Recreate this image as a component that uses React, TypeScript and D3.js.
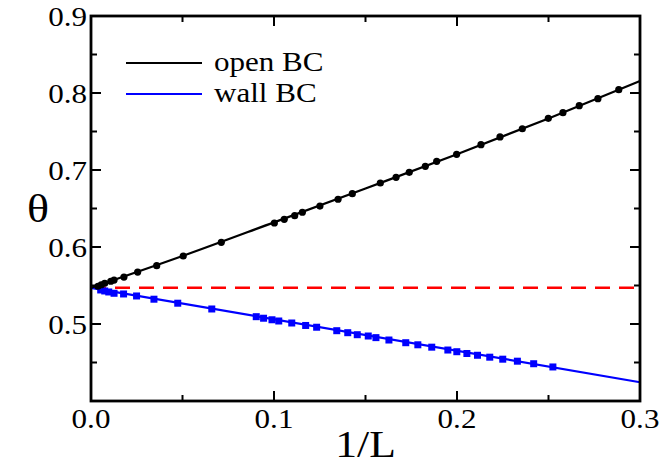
import { scaleLinear, line as d3_line, curveMonotoneX, range } from "d3";

// 1/L and theta values
const openX = [
  0.0038, 0.0056, 0.0075, 0.0108, 0.0126, 0.018, 0.0255, 0.0359, 0.0504,
  0.0712, 0.1002, 0.1056, 0.1113, 0.1155, 0.1251, 0.135, 0.1428, 0.1581,
  0.1667, 0.1739, 0.1827, 0.1889, 0.1998, 0.2131, 0.2235, 0.2357, 0.2499,
  0.2579, 0.2668, 0.277, 0.2884,
];
const openY = [
  0.549, 0.551, 0.5529, 0.5555, 0.5571, 0.561, 0.5675, 0.5757, 0.5883,
  0.6061, 0.6312, 0.636, 0.6407, 0.6451, 0.6532, 0.662, 0.6692, 0.6831,
  0.6905, 0.697, 0.7048, 0.7113, 0.7204, 0.7329, 0.7429, 0.7536, 0.7671,
  0.7744, 0.7835, 0.7926, 0.8043,
];

const wallX = [
  0.0053, 0.0075, 0.0097, 0.0126, 0.0178, 0.0249, 0.0344, 0.0474, 0.066,
  0.0903, 0.0943, 0.0989, 0.1026, 0.1097, 0.1173, 0.1233, 0.1343, 0.1403,
  0.1455, 0.1515, 0.1557, 0.1628, 0.172, 0.1786, 0.1862, 0.195, 0.1999,
  0.2054, 0.2112, 0.2179, 0.225, 0.233, 0.2419, 0.2524,
];
const wallY = [
  0.5442, 0.5429, 0.5416, 0.5399, 0.539, 0.5364, 0.5322, 0.527, 0.5195,
  0.5095, 0.5075, 0.5055, 0.5039, 0.5013, 0.4981, 0.4958, 0.4913, 0.4887,
  0.4861, 0.4844, 0.4823, 0.4792, 0.4757, 0.473, 0.4699, 0.4662, 0.464,
  0.4617, 0.4594, 0.4569, 0.4543, 0.4517, 0.4484, 0.4442,
];

// fit curves
const fitOpenX = [0, 0.05, 0.1, 0.15, 0.2, 0.25, 0.3];
const fitOpenY = [0.547, 0.5883, 0.632, 0.676, 0.7205, 0.767, 0.8156];
const fitWallX = [0, 0.3];
const fitWallY = [0.547, 0.4243];

// extrapolated limit (red dashed)
const thetaLimit = 0.547;

const xTicks = [0, 0.1, 0.2, 0.3];
const yTicks = [0.5, 0.6, 0.7, 0.8, 0.9];

const legendItems = [
  { label: "open BC", color: "#000000" },
  { label: "wall BC", color: "#0000ff" },
];

const FONT = "'Liberation Serif', 'Times New Roman', serif";

function Txt({
  x,
  y,
  size,
  anchor = "start",
  children,
}: {
  x: number;
  y: number;
  size: number;
  anchor?: string;
  children: any;
}) {
  // the original glyphs are a little wider than Times
  return (
    <g transform={`translate(${x},${y}) scale(1.15,1)`}>
      <text
        fontFamily={FONT}
        fontSize={size}
        textAnchor={anchor}
        fill="#000"
      >
        {children}
      </text>
    </g>
  );
}

export default function App() {
  const width = 660;
  const height = 468;
  const margin = { top: 16, right: 20, bottom: 67, left: 91 };

  const x = scaleLinear()
    .domain([0, 0.3])
    .range([margin.left, width - margin.right]);
  const y = scaleLinear()
    .domain([0.4, 0.9])
    .range([height - margin.bottom, margin.top]);

  const [x0, x1] = x.range();
  const [y0, y1] = y.range();

  const fitLine = d3_line<[number, number]>()
    .x((d) => x(d[0]))
    .y((d) => y(d[1]))
    .curve(curveMonotoneX);

  const openFit = fitLine(fitOpenX.map((v, i) => [v, fitOpenY[i]]));
  const wallFit = fitLine(fitWallX.map((v, i) => [v, fitWallY[i]]));

  const xMinor = range(0, 0.3001, 0.05);
  const yMinor = range(0.4, 0.9001, 0.05);

  return (
    <svg
      width={width}
      height={height}
      style={{ position: "absolute", left: 0, top: 0, background: "#fff" }}
    >
      {/* red dashed limit */}
      <line
        x1={x0}
        x2={x1}
        y1={y(thetaLimit)}
        y2={y(thetaLimit)}
        stroke="#ff0000"
        strokeWidth={2.5}
        strokeDasharray="15,9"
      />

      {/* fits */}
      <path d={wallFit ?? ""} fill="none" stroke="#0000ff" strokeWidth={2.2} />
      <path d={openFit ?? ""} fill="none" stroke="#000" strokeWidth={2.2} />

      {/* data */}
      {wallX.map((v, i) => (
        <rect
          key={`w${i}`}
          x={x(v) - 3.5}
          y={y(wallY[i]) - 3.5}
          width={7}
          height={7}
          fill="#0000ff"
        />
      ))}
      {openX.map((v, i) => (
        <circle key={`o${i}`} cx={x(v)} cy={y(openY[i])} r={3.6} fill="#000" />
      ))}

      {/* frame */}
      <rect
        x={x0}
        y={y1}
        width={x1 - x0}
        height={y0 - y1}
        fill="none"
        stroke="#000"
        strokeWidth={2.8}
      />

      {/* x ticks (bottom and top, inward) */}
      {xMinor.map((v, i) => {
        const major = i % 2 === 0;
        const len = major ? 10 : 6;
        return (
          <g key={`xt${i}`} stroke="#000" strokeWidth={2}>
            <line x1={x(v)} x2={x(v)} y1={y0} y2={y0 - len} />
            <line x1={x(v)} x2={x(v)} y1={y1} y2={y1 + len} />
          </g>
        );
      })}
      {/* y ticks (left and right, inward) */}
      {yMinor.map((v, i) => {
        const major = i % 2 === 0;
        const len = major ? 10 : 6;
        return (
          <g key={`yt${i}`} stroke="#000" strokeWidth={2}>
            <line x1={x0} x2={x0 + len} y1={y(v)} y2={y(v)} />
            <line x1={x1} x2={x1 - len} y1={y(v)} y2={y(v)} />
          </g>
        );
      })}

      {/* tick labels */}
      {xTicks.map((v) => (
        <Txt key={`xl${v}`} x={x(v)} y={y0 + 27} size={27} anchor="middle">
          {v.toFixed(1)}
        </Txt>
      ))}
      {yTicks.map((v) => (
        <Txt key={`yl${v}`} x={x0 - 4} y={y(v) + 9.5} size={27} anchor="end">
          {v.toFixed(1)}
        </Txt>
      ))}

      {/* axis titles */}
      <Txt x={(x0 + x1) / 2} y={height - 11} size={38} anchor="middle">
        1/L
      </Txt>
      <Txt x={38} y={(y0 + y1) / 2 + 13} size={40} anchor="middle">
        θ
      </Txt>

      {/* legend */}
      {legendItems.map((d, i) => (
        <g key={d.label}>
          <line
            x1={126}
            x2={202}
            y1={63 + i * 31}
            y2={63 + i * 31}
            stroke={d.color}
            strokeWidth={2.2}
          />
          <Txt x={214} y={71 + i * 31} size={27}>
            {d.label}
          </Txt>
        </g>
      ))}
    </svg>
  );
}
